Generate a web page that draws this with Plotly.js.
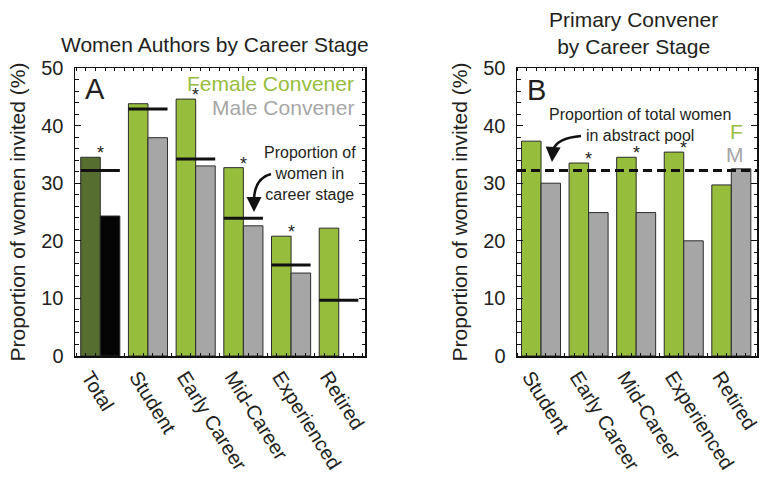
<!DOCTYPE html>
<html>
<head>
<meta charset="utf-8">
<script src="https://cdn.plot.ly/plotly-3.0.1.min.js"></script>
<style>
  html, body { margin: 0; padding: 0; background: #fff; }
  #chart { width: 762px; height: 477px; }
</style>
</head>
<body>
<div id="chart"></div>
<script>
// Panel A: women authors invited, split by convener gender and career stage
const stagesA = ['Total', 'Student', 'Early Career', 'Mid-Career', 'Experienced', 'Retired'];
const femaleConvenerA = [34.5, 43.8, 44.6, 32.7, 20.8, 22.2];
const maleConvenerA = [24.3, 37.9, 33.0, 22.6, 14.4, null];
const womenInStageA = [32.2, 42.9, 34.2, 23.9, 15.8, 9.7];
const significantA = [true, false, true, true, true, false];

// Panel B: primary convener by career stage
const stagesB = ['Student', 'Early Career', 'Mid-Career', 'Experienced', 'Retired'];
const femaleConvenerB = [37.3, 33.5, 34.5, 35.4, 29.7];
const maleConvenerB = [30.0, 24.9, 24.9, 20.0, 32.5];
const significantB = [false, true, true, true, false];
const womenInAbstractPool = 32.2;

const GREEN = '#97bd3d';
const DARK_GREEN = '#566f31';
const GREY = '#a5a6a5';
const INK = '#231f20';
const FONT = 'Liberation Sans, Arial, Helvetica, sans-serif';

const W = 762, H = 477;
const px = v => v / W;
const py = v => 1 - v / H;

const idxA = stagesA.map((_, i) => i);
const idxB = stagesB.map((_, i) => i);
const halfGroup = 0.41;

// horizontal reference segments spanning each pair of bars
const segX = [], segY = [];
womenInStageA.forEach((v, i) => {
  segX.push(i - halfGroup, i + halfGroup, null);
  segY.push(v, v, null);
});

const barLine = { color: '#2b2b2b', width: 1 };

const traces = [
  {
    type: 'bar', x: idxA, y: femaleConvenerA, xaxis: 'x', yaxis: 'y',
    marker: { color: idxA.map(i => i === 0 ? DARK_GREEN : GREEN), line: barLine },
    hoverinfo: 'skip', showlegend: false
  },
  {
    type: 'bar', x: idxA, y: maleConvenerA, xaxis: 'x', yaxis: 'y',
    marker: { color: idxA.map(i => i === 0 ? '#050505' : GREY), line: barLine },
    hoverinfo: 'skip', showlegend: false
  },
  {
    type: 'scatter', mode: 'lines', x: segX, y: segY, xaxis: 'x', yaxis: 'y',
    line: { color: '#111', width: 3 }, connectgaps: false,
    hoverinfo: 'skip', showlegend: false
  },
  {
    type: 'bar', x: idxB, y: femaleConvenerB, xaxis: 'x2', yaxis: 'y2',
    marker: { color: GREEN, line: barLine }, hoverinfo: 'skip', showlegend: false
  },
  {
    type: 'bar', x: idxB, y: maleConvenerB, xaxis: 'x2', yaxis: 'y2',
    marker: { color: GREY, line: barLine }, hoverinfo: 'skip', showlegend: false
  }
];

// significance stars sit just above the female-convener bar, at the group centre
const star = (i, v, xr, yr) => ({
  text: '*', xref: xr, yref: yr, x: i, y: v, xanchor: 'center', yanchor: 'middle',
  yshift: 4, showarrow: false, font: { size: 18, color: INK, family: FONT }
});
const stars = [
  ...idxA.filter(i => significantA[i]).map(i => star(i, femaleConvenerA[i], 'x', 'y')),
  ...idxB.filter(i => significantB[i]).map(i => star(i, femaleConvenerB[i], 'x2', 'y2'))
];

const yDomain = [py(356), py(68)];

function xAxis(domain, range, labels) {
  return {
    domain, range,
    tickmode: 'array', tickvals: labels.map((_, i) => i), ticktext: labels,
    tickangle: 58, ticks: '', ticklabelshift: -11, ticklabeloverflow: 'allow',
    tickfont: { size: 20, color: INK, family: FONT },
    showline: true, linecolor: '#111', linewidth: 1.5, mirror: 'allticks',
    showgrid: false, zeroline: false, automargin: false, fixedrange: true,
    minor: { ticks: 'inside', tick0: 0.1, dtick: 0.2, ticklen: 3, tickcolor: '#111', tickwidth: 1, showgrid: false }
  };
}

function yAxis(anchor) {
  return {
    domain: yDomain, range: [0, 50], anchor,
    tickmode: 'linear', tick0: 0, dtick: 10,
    ticks: 'inside', ticklen: 6, tickwidth: 1.2, tickcolor: '#111',
    ticklabelstandoff: 6,
    tickfont: { size: 20, color: INK, family: FONT },
    showline: true, linecolor: '#111', linewidth: 1.5, mirror: 'allticks',
    showgrid: false, zeroline: false, automargin: false, fixedrange: true,
    minor: { ticks: 'inside', dtick: 2, ticklen: 3.5, tickcolor: '#111', tickwidth: 1, showgrid: false },
    title: { text: 'Proportion of women invited (%)', font: { size: 21, color: INK, family: FONT }, standoff: 10 }
  };
}

const text = (t, x, y, size, color, extra) => Object.assign({
  text: t, xref: 'paper', yref: 'paper', x: px(x), y: py(y),
  xanchor: 'center', yanchor: 'middle',
  showarrow: false, font: { size, color, family: FONT }
}, extra || {});

const layout = {
  width: W, height: H,
  margin: { l: 0, r: 0, t: 0, b: 0 },
  paper_bgcolor: '#fff', plot_bgcolor: '#fff',
  font: { family: FONT, color: INK },
  barmode: 'group', bargap: 0.18, bargroupgap: 0,
  xaxis: Object.assign(xAxis([px(75), px(365)], [-0.53, 5.55], stagesA), { anchor: 'y' }),
  yaxis: yAxis('x'),
  xaxis2: Object.assign(xAxis([px(517), px(757)], [-0.505, 4.54], stagesB), { anchor: 'y2' }),
  yaxis2: yAxis('x2'),
  shapes: [
    {
      type: 'line', xref: 'x2 domain', yref: 'y2', x0: 0, x1: 1,
      y0: womenInAbstractPool, y1: womenInAbstractPool,
      line: { color: '#111', width: 3, dash: '9px,5px' }
    },
    {
      type: 'path', xref: 'paper', yref: 'paper',
      path: `M ${px(271)},${py(174)} Q ${px(255)},${py(178)} ${px(254)},${py(199)}`,
      line: { color: '#111', width: 2.5 }
    },
    {
      type: 'path', xref: 'paper', yref: 'paper',
      path: `M ${px(581)},${py(136)} Q ${px(557)},${py(138)} ${px(553)},${py(150)}`,
      line: { color: '#111', width: 2.5 }
    }
  ],
  annotations: [
    text('Women Authors by Career Stage', 215, 45, 21, INK),
    text('Primary Convener<br>by Career Stage', 633, 33, 21, INK),
    text('A', 95, 89, 29, INK),
    text('B', 536, 90, 29, INK),
    text('Female Convener', 356, 83, 21, GREEN, { xanchor: 'right' }),
    text('Male Convener', 356, 107, 21, GREY, { xanchor: 'right' }),
    text('Proportion of<br>women in<br>career stage', 310, 173, 16, INK),
    text('Proportion of total women<br>in abstract pool', 640, 125, 16, INK),
    text('F', 745, 131, 21, GREEN, { xanchor: 'right' }),
    text('M', 746, 154, 21, GREY, { xanchor: 'right' }),
    {
      xref: 'paper', yref: 'paper', x: px(254), y: py(212), ax: 0, ay: -14,
      showarrow: true, arrowhead: 2, arrowsize: 1.2, arrowwidth: 2.5, arrowcolor: '#111', text: ''
    },
    {
      xref: 'paper', yref: 'paper', x: px(552), y: py(162), ax: 1, ay: -13,
      showarrow: true, arrowhead: 2, arrowsize: 1.2, arrowwidth: 2.5, arrowcolor: '#111', text: ''
    },
    ...stars
  ]
};

Plotly.newPlot('chart', traces, layout, { staticPlot: true, displayModeBar: false });
</script>
</body>
</html>
